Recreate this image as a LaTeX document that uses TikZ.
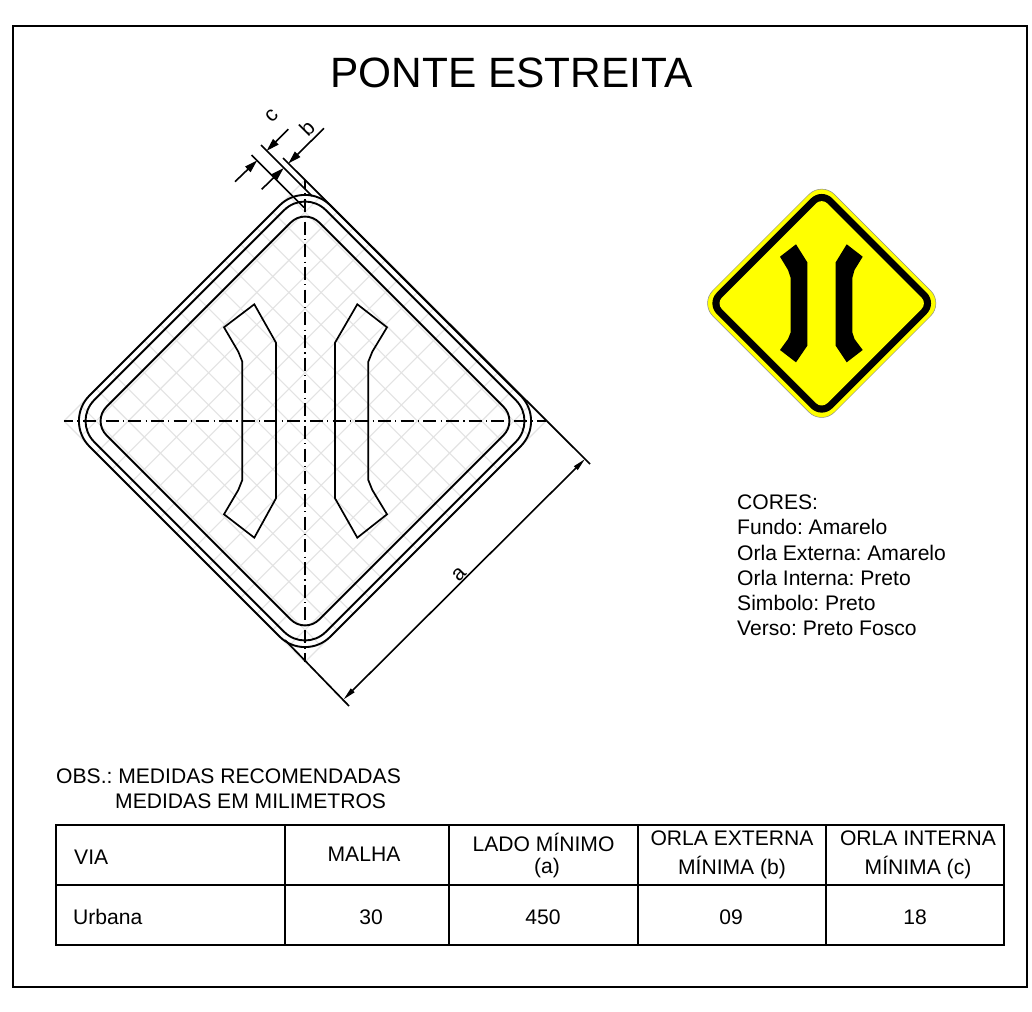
\documentclass[tikz,border=0pt]{standalone}
\usepackage{fontspec}
\setmainfont{Liberation Sans}
\usetikzlibrary{arrows.meta}
\newcommand{\fs}[1]{\fontsize{#1pt}{#1pt}\selectfont}
\definecolor{signyellow}{RGB}{255,255,0}
\tikzset{
  x=1pt,y=-1pt,
  frameline/.style={line width=1.4pt,black},
  mesh/.style={line width=1.1pt,color=black!11},
  edgeline/.style={line width=1.9pt,black},
  symline/.style={line width=1.7pt,black,line join=miter},
  axisline/.style={line width=1.2pt,black,dash pattern=on 13pt off 4.3pt on 1.2pt off 4.2pt,dash phase=3.9pt},
  extline/.style={line width=1.7pt,black},
  dimline/.style={line width=1.6pt,black},
  dimtip/.style={-{Stealth[inset=0pt,length=13pt,width=7.5pt]}},
  body/.style={anchor=west,inner sep=0pt,font=\fs{21.1}},
  cell/.style={anchor=center,inner sep=0pt,font=\fs{21.1}},
  dimlabel/.style={inner sep=0pt,font=\fs{21.1}},
}
\begin{document}
\frenchspacing
\begin{tikzpicture}
\useasboundingbox (0,0) rectangle (1032,1011);
\fill[white] (0,0) rectangle (1032,1011);
\draw[frameline] (13,26) rectangle (1027,987);
\node[inner sep=0pt,font=\fs{42.4}] (title) at (511.5,73) {PONTE ESTREITA};
% ---- large sign: mesh
\begin{scope}[shift={(305,421)},rotate=45]
  \foreach \k in {0,...,15}{
    \pgfmathsetmacro{\u}{-170.41+\k*22.721}
    \draw[mesh] (\u,-170.41) -- (\u,170.41);
    \draw[mesh] (-170.41,\u) -- (170.41,\u);
  }
  \draw[edgeline,rounded corners=36pt] (-170.41,-170.41) rectangle (170.41,170.41);
  \draw[edgeline,rounded corners=29.5pt] (-163.83,-163.83) rectangle (163.83,163.83);
  \draw[edgeline,rounded corners=20pt] (-150.41,-150.41) rectangle (150.41,150.41);
\end{scope}
% axes
\draw[axisline] (305,180) -- (305,662);
\draw[axisline] (64,421) -- (546,421);
% symbols
\draw[symline] (254.3,304.3) -- (224,327.3) -- (238.3,351.7) -- (242.3,361.7) -- (242.3,480) -- (238.3,490) -- (224,514.3) -- (254.3,537.7) -- (276,498.3) -- (276,342.7) -- cycle;
\draw[symline] (357.3,304.3) -- (387,327.3) -- (372.3,351.7) -- (368.3,361.7) -- (368.3,480) -- (372.3,490) -- (387,514.3) -- (357.3,537.7) -- (335,498.3) -- (335,342.7) -- cycle;
% dimension coordinates
\coordinate (extAa) at (283,158);
\coordinate (extAb) at (590,464);
\coordinate (extBa) at (285,640);
\coordinate (extBb) at (349,706);
\coordinate (extCa) at (261,145);
\coordinate (extCb) at (312,196);
\coordinate (extDa) at (251.5,155);
\coordinate (extDb) at (304,207.5);
\draw[extline] (extAa) -- (extAb);
\draw[extline] (extBa) -- (extBb);
\draw[extline] (extCa) -- (extCb);
\draw[extline] (extDa) -- (extDb);
% a
\coordinate (aL) at (343.5,699.5);
\coordinate (aR) at (585,459);
\draw[dimline,{Stealth[inset=0pt,length=13pt,width=5pt]}-{Stealth[inset=0pt,length=13pt,width=5pt]}] (aL) -- (aR);
\node[dimlabel,rotate=45] (la) at (459,574) {a};
% b
\coordinate (bOutA) at (261.7,189.3);
\coordinate (bInA) at (283.7,168);
\coordinate (bOutB) at (324,128.3);
\coordinate (bInB) at (288.4,163.4);
\draw[dimline,dimtip] (bOutA) -- (bInA);
\draw[dimline,dimtip] (bOutB) -- (bInB);
\node[dimlabel,rotate=45] (lb) at (307,128) {b};
% c
\coordinate (cOutA) at (235,181.7);
\coordinate (cInA) at (257.2,160.4);
\coordinate (cOutB) at (288.3,129.3);
\coordinate (cInB) at (266.6,150.9);
\draw[dimline,dimtip] (cOutA) -- (cInA);
\draw[dimline,dimtip] (cOutB) -- (cInB);
\node[dimlabel,rotate=45] (lc) at (271.7,115.7) {c};
% ---- small sign
\begin{scope}[shift={(821.7,303.3)},rotate=45]
  \draw[fill=signyellow,draw=black!45,line width=0.5pt,rounded corners=18pt] (-86,-86) rectangle (86,86);
  \draw[fill=black,draw=none,rounded corners=15pt] (-81.7,-81.7) rectangle (81.7,81.7);
  \draw[fill=signyellow,draw=none,rounded corners=8pt] (-74.6,-74.6) rectangle (74.6,74.6);
\end{scope}
\fill[black] (796,244.3) -- (780,256.7) -- (788,270) -- (790.7,278) -- (790.7,332.3) -- (788,339) -- (780,350) -- (796,362.3) -- (807.3,345.7) -- (807.3,262.3) -- cycle;
\fill[black] (846.7,244.3) -- (862.7,256.7) -- (854.5,270) -- (852.3,278) -- (852.3,332.3) -- (854.5,339) -- (862.7,350) -- (846.7,362.3) -- (835.7,345.7) -- (835.7,262.3) -- cycle;
% ---- colours
\node[body] (t1) at (737,502) {CORES:};
\node[body] (t2) at (737,527) {Fundo: Amarelo};
\node[body] (t3) at (737,553) {Orla Externa: Amarelo};
\node[body] (t4) at (737,578) {Orla Interna: Preto};
\node[body] (t5) at (737,603) {Simbolo: Preto};
\node[body] (t6) at (737,628) {Verso: Preto Fosco};
% ---- notes
\node[body] (o1) at (56,776) {OBS.: MEDIDAS RECOMENDADAS};
\node[body] (o2) at (115,801) {MEDIDAS EM MILIMETROS};
% ---- table
\draw[frameline] (56,825) rectangle (1004,945);
\draw[frameline] (56,885) -- (1004,885);
\foreach \c in {285,449,638,826} \draw[frameline] (\c,825) -- (\c,945);
\node[body] (h1) at (74,857) {VIA};
\node[cell] (h2) at (364,854) {MALHA};
\node[cell] (h3a) at (543.5,842) {LADO MÍNIMO};
\node[cell] (h3b) at (547,868) {(a)};
\node[cell] (h4a) at (732,838) {ORLA EXTERNA};
\node[cell] (h4b) at (732,868) {MÍNIMA (b)};
\node[cell] (h5a) at (918,838) {ORLA INTERNA};
\node[cell] (h5b) at (918,868) {MÍNIMA (c)};
\node[body] (r1) at (73,917) {Urbana};
\node[cell] (r2) at (371,917) {30};
\node[cell] (r3) at (543,917) {450};
\node[cell] (r4) at (731,917) {09};
\node[cell] (r5) at (915,917) {18};
\end{tikzpicture}
\end{document}
